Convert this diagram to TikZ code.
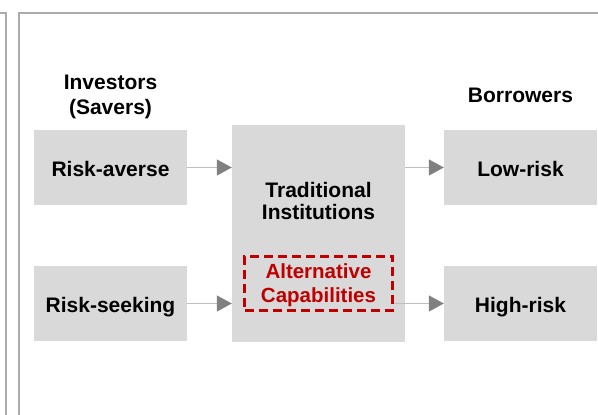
\documentclass[tikz,border=0pt]{standalone}
\usepackage{fontspec}
\setmainfont{Liberation Sans}
\usetikzlibrary{arrows.meta}
\definecolor{boxgray}{HTML}{D9D9D9}
\definecolor{framegray}{HTML}{ABABAB}
\definecolor{linegray}{HTML}{BFBFBF}
\definecolor{tipgray}{HTML}{808080}
\definecolor{altred}{HTML}{C00000}
\begin{document}
\begin{tikzpicture}[x=1pt,y=-1pt,
  txt/.style={font=\fontsize{21}{25}\selectfont\bfseries, align=center, inner sep=0pt},
  graybox/.style={txt, fill=boxgray, draw=none, minimum width=153pt, minimum height=75pt, text height=18pt, text depth=0pt},
  flow/.style={draw=linegray, line width=1.5pt, -{Triangle[length=15pt,width=16pt,color=tipgray]}},
  frame/.style={draw=framegray, line width=2pt}
]
\useasboundingbox (0,0) rectangle (598,415);
% frames
\draw[frame] (0,12.5) -- (5.5,12.5) -- (5.5,416);
\draw[frame] (18.5,416) -- (18.5,12.5) -- (599,12.5);
% boxes
\node[graybox] (ra) at (110.5,167.5) {Risk-averse};
\node[graybox] (rs) at (110.5,303.5) {Risk-seeking};
\node[graybox] (lr) at (520.5,167.5) {Low-risk};
\node[graybox] (hr) at (520.5,303.5) {High-risk};
\node[fill=boxgray, minimum width=173pt, minimum height=217pt, inner sep=0pt] (trad) at (318.5,233.5) {};
\node[txt, font=\fontsize{21}{22}\selectfont\bfseries, text depth=0pt] (tradlbl) at (318.5,201) {Traditional\\Institutions};
\node[txt, text=altred, font=\fontsize{20.5}{24}\selectfont\bfseries, text depth=0pt, draw=altred, line width=3pt, dash pattern=on 9pt off 5pt, minimum width=148pt, minimum height=54pt] (alt) at (318.5,283) {Alternative\\Capabilities};
% headers
\node[txt, text depth=0pt] (inv) at (110.5,94.5) {Investors\\(Savers)};
\node[txt] (bor) at (520.5,95.5) {Borrowers};
% arrows
\draw[flow] (ra.east) -- (trad.west |- ra.east);
\draw[flow] (rs.east) -- (trad.west |- rs.east);
\draw[flow] (trad.east |- lr.west) -- (lr.west);
\draw[flow] (alt.east |- hr.west) -- (hr.west);
\end{tikzpicture}
\end{document}
